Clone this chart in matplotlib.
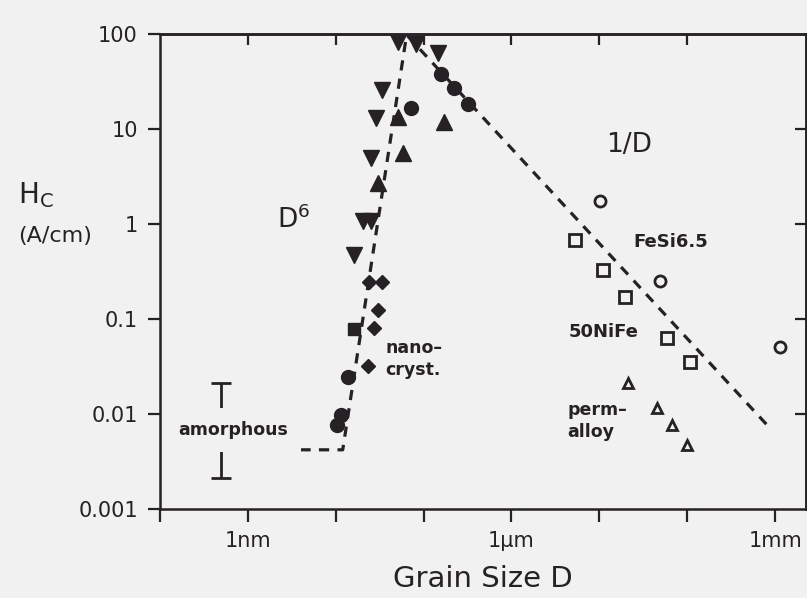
import numpy as np
import matplotlib
matplotlib.use("Agg")
import matplotlib.pyplot as plt

plt.rcParams["font.family"] = ["DejaVu Sans"]
plt.rcParams["mathtext.default"] = "regular"

BG = "#f1f1f1"
INK = "#262124"

# grain size D in nm, coercivity Hc in A/cm
tri_down_x = [51, 81, 144, 34, 28.5, 25, 20.3, 25, 16]
tri_down_y = [82, 78, 63, 25.7, 13, 5.0, 1.08, 1.08, 0.47]
tri_up_x = [51, 169, 58, 30]
tri_up_y = [13.4, 11.9, 5.6, 2.7]
circle_x = [71, 156, 219, 316, 13.7, 11.4, 10.3]
circle_y = [16.6, 38, 27, 18.3, 0.0245, 0.0098, 0.0077]
diamond_x = [23.7, 34, 30, 27, 23]
diamond_y = [0.245, 0.245, 0.124, 0.080, 0.032]
square_x = [16]
square_y = [0.0785]

# conventional soft magnets (open symbols)
open_circle_x = [10200, 49300, 1.14e6]
open_circle_y = [1.75, 0.25, 0.051]
open_square_x = [5340, 11100, 19700, 59300, 108000]
open_square_y = [0.68, 0.33, 0.17, 0.063, 0.035]
open_tri_x = [21400, 45600, 67000, 100000]
open_tri_y = [0.0212, 0.0116, 0.0077, 0.0047]

# guide line: amorphous plateau, D^6 rise, 1/D fall
fit_x = [1.5, 12, 64, 9e5]
fit_y = [0.0042, 0.0042, 98, 0.0069]

# amorphous range
amorph_x = 0.49
amorph_lo = 0.0021
amorph_hi = 0.021

xticks = [0.1, 1, 10, 100, 1e3, 1e4, 1e5, 1e6]
xlabels = ["", "1nm", "", "", "1µm", "", "", "1mm"]
yticks = [0.001, 0.01, 0.1, 1, 10, 100]
ylabels = ["0.001", "0.01", "0.1", "1", "10", "100"]

fig = plt.figure(figsize=(8.07, 5.98), dpi=100, facecolor=BG)
ax = fig.add_axes([0.1983, 0.1488, 0.8005, 0.7943], facecolor=BG)
ax.set_xscale("log")
ax.set_yscale("log")
ax.set_xlim(0.1, 2.25e6)
ax.set_ylim(0.001, 100)

ax.plot(fit_x, fit_y, color=INK, lw=2.3, ls=(0, (3.2, 2.6)), zorder=2)

mk = dict(color=INK, ls="none", zorder=3)
ax.plot(tri_down_x, tri_down_y, marker="v", ms=11, **mk)
ax.plot(tri_up_x, tri_up_y, marker="^", ms=11, **mk)
ax.plot(circle_x, circle_y, marker="o", ms=10, **mk)
ax.plot(diamond_x, diamond_y, marker="D", ms=7.5, **mk)
ax.plot(square_x, square_y, marker="s", ms=8.5, **mk)

omk = dict(color=INK, ls="none", mfc="none", mew=2, zorder=3)
ax.plot(open_circle_x, open_circle_y, marker="o", ms=8, **omk)
ax.plot(open_square_x, open_square_y, marker="s", ms=8.5, **omk)
ax.plot(open_tri_x, open_tri_y, marker="^", ms=7.5, **omk)

mid = np.sqrt(amorph_lo * amorph_hi)
ax.errorbar([amorph_x], [mid], yerr=[[mid - amorph_lo], [amorph_hi - mid]],
            fmt="none", ecolor=INK, elinewidth=2, capsize=7, capthick=2, zorder=2)

ax.text(0.68, 0.0068, "amorphous", fontsize=12.5, fontweight="bold", color=INK,
        ha="center", va="center", zorder=4,
        bbox=dict(boxstyle="square,pad=0.75", fc=BG, ec="none"))
ax.text(3.33, 1.10, "D$^6$", fontsize=19, color=INK, ha="center", va="center")
ax.text(21900, 6.8, "1/D", fontsize=19, color=INK, ha="center", va="center")
ax.text(24300, 0.65, "FeSi6.5", fontsize=13, fontweight="bold", color=INK, va="center")
ax.text(4440, 0.073, "50NiFe", fontsize=13, fontweight="bold", color=INK, va="center")
ax.text(4330, 0.0084, "perm–\nalloy", fontsize=12.5, fontweight="bold", color=INK,
        va="center", linespacing=1.3)
ax.text(37, 0.038, "nano–\ncryst.", fontsize=12.5, fontweight="bold", color=INK,
        va="center", linespacing=1.3)

ax.set_xticks(xticks, xlabels)
ax.set_yticks(yticks, ylabels)
ax.minorticks_off()
ax.tick_params(direction="out", length=9, width=1.6, colors=INK, labelsize=15, pad=7)

top = ax.secondary_xaxis("top")
top.set_xticks(xticks[1:-1])
top.minorticks_off()
top.tick_params(direction="in", length=8, width=1.6, colors=INK, labeltop=False)
right = ax.secondary_yaxis("right")
right.set_yticks(yticks[1:-1])
right.minorticks_off()
right.tick_params(direction="in", length=8, width=1.6, colors=INK, labelright=False)

for sp in list(ax.spines.values()) + [top.spines["top"], right.spines["right"]]:
    sp.set_linewidth(1.8)
    sp.set_color(INK)

ax.set_xlabel("Grain Size D", fontsize=21, color=INK, labelpad=10)
fig.text(0.045, 1 - 195 / 598, "H$_C$", fontsize=20, color=INK, ha="center", va="center")
fig.text(0.068, 1 - 236 / 598, "(A/cm)", fontsize=16, color=INK, ha="center", va="center")

fig.savefig("out.png", dpi=100, facecolor=BG)
